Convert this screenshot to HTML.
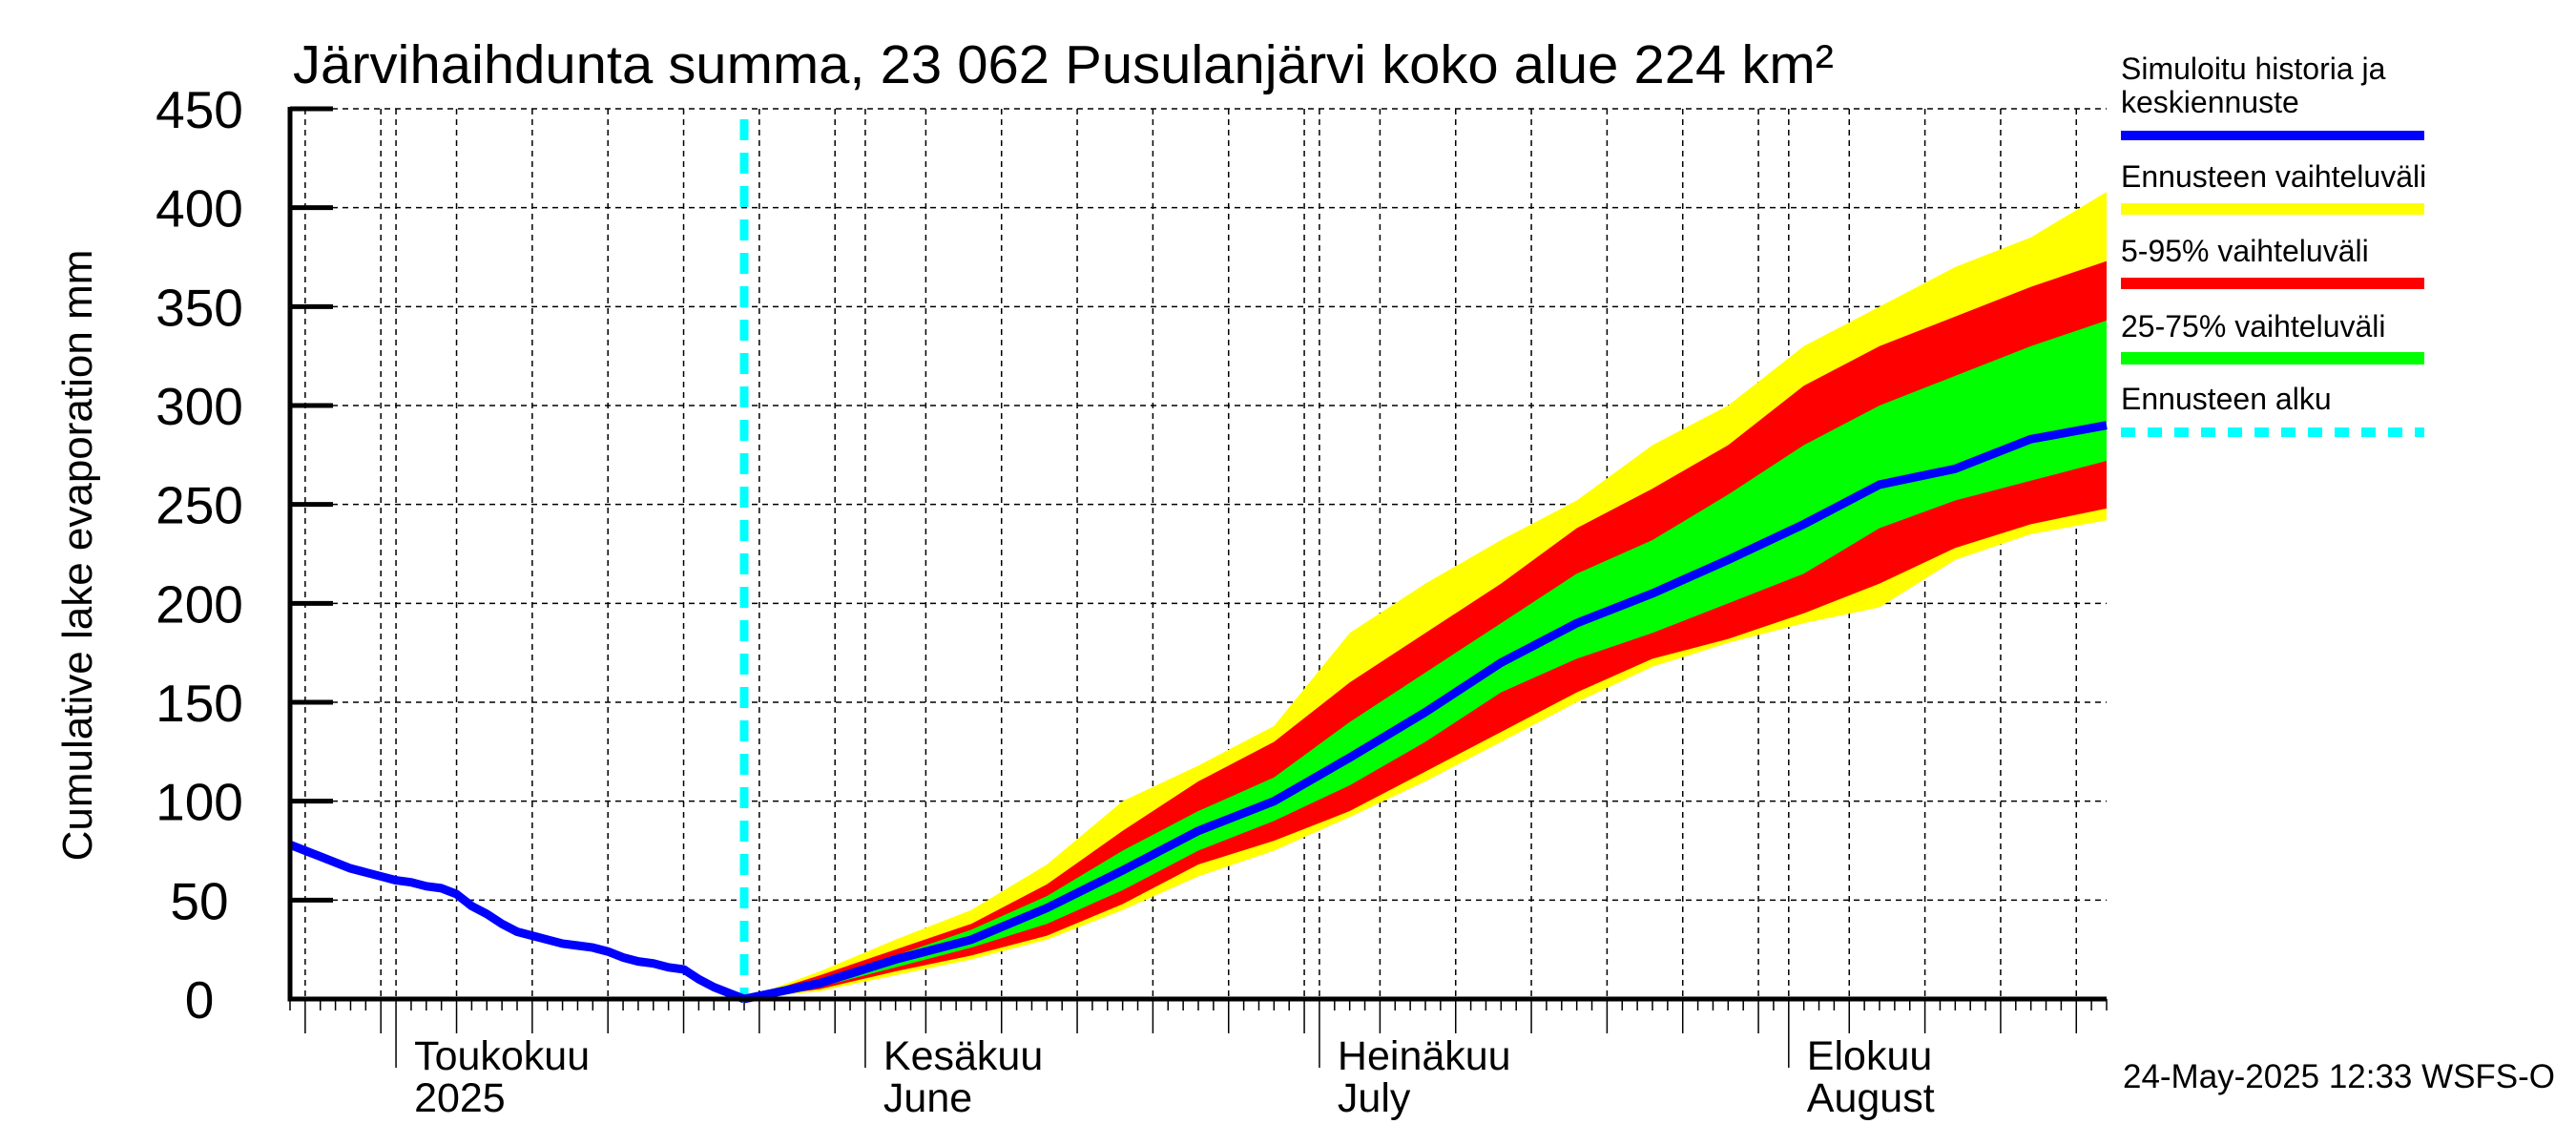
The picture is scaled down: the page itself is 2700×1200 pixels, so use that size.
<!DOCTYPE html>
<html><head><meta charset="utf-8"><style>
html,body{margin:0;padding:0;background:#fff;}
svg{display:block;font-family:"Liberation Sans",sans-serif;}
</style></head><body>
<svg id="chart" width="2700" height="1200" viewBox="0 0 2700 1200" xmlns="http://www.w3.org/2000/svg">
<g id="grid"></g>
<g id="bands"></g>
<g id="lines"></g>
<g id="axes"></g>
<text x="307" y="87" font-size="57" textLength="1615" lengthAdjust="spacingAndGlyphs">Järvihaihdunta summa, 23 062 Pusulanjärvi koko alue 224 km²</text>
<text transform="translate(96,582) rotate(-90)" text-anchor="middle" font-size="44">Cumulative lake evaporation   mm</text>
<g font-size="32">
<text x="2223" y="83">Simuloitu historia ja</text>
<text x="2223" y="118">keskiennuste</text>
<rect x="2223" y="137" width="318" height="10" fill="#0000ff"/>
<text x="2223" y="196">Ennusteen vaihteluväli</text>
<rect x="2223" y="213" width="318" height="12" fill="#ffff00"/>
<text x="2223" y="274">5-95% vaihteluväli</text>
<rect x="2223" y="291" width="318" height="12" fill="#ff0000"/>
<text x="2223" y="353">25-75% vaihteluväli</text>
<rect x="2223" y="369" width="318" height="13" fill="#00ff00"/>
<text x="2223" y="429">Ennusteen alku</text>
<line x1="2223" y1="453" x2="2541" y2="453" stroke="#00ffff" stroke-width="10" stroke-dasharray="15,13"/>
</g>
<text x="2225" y="1140" font-size="35" textLength="453" lengthAdjust="spacingAndGlyphs">24-May-2025 12:33 WSFS-O</text>
</svg>
<script>
// day offsets from 2025-04-24
const histDays = [0,1,2,3,4,5,6,7,8,9,10,11,12,13,14,15,16,17,18,19,20,21,22,23,24,25,26,27,28,29,30];
const histVals = [78,75,72,69,66,64,62,60,59,57,56,53,47,43,38,34,32,30,28,27,26,24,21,19,18,16,15,10,6,3,0];
const fcDays = [30,35,40,45,50,55,60,65,70,75,80,85,90,95,100,105,110,115,120];
const yelHi = [0,14,30,45,68,100,118,138,185,210,232,252,280,300,330,350,370,385,408];
const redHi = [0,12,25,38,58,85,110,130,160,185,210,238,258,280,310,330,345,360,373];
const grnHi = [0,10,22,35,52,75,95,112,140,165,190,215,232,255,280,300,315,330,343];
const median = [0,8,20,30,46,65,85,100,122,145,170,190,205,222,240,260,268,283,290];
const grnLo = [0,6,16,26,38,55,75,90,108,130,155,172,185,200,215,238,252,262,272];
const redLo = [0,5,14,22,32,48,68,80,95,115,135,155,172,182,195,210,228,240,248];
const yelLo = [0,4,12,20,30,45,62,75,92,110,130,150,168,180,190,198,222,235,242];
const yTicks = [0,50,100,150,200,250,300,350,400,450];
const monthStarts = [7,38,68,99];
const monthFi = ["Toukokuu","Kesäkuu","Heinäkuu","Elokuu"];
const monthSub = ["2025","June","July","August"];
const forecastStart = 30;
const totalDays = 120;

const X0=304,X1=2208,Y0=1047,Y1=114;
const x = d => X0 + d*(X1-X0)/totalDays;
const y = v => Y0 - v*(Y0-Y1)/450;
const NS="http://www.w3.org/2000/svg";
function mk(parent,tag,attrs){const e=document.createElementNS(NS,tag);for(const k in attrs)e.setAttribute(k,attrs[k]);parent.appendChild(e);return e;}
const grid=document.getElementById('grid'),bands=document.getElementById('bands'),lines=document.getElementById('lines'),axes=document.getElementById('axes');

// day-of-month for each day offset (Apr 24 start)
const mLen=[[24,30],[1,31],[1,30],[1,31],[1,31]];
let dom=[];{let d=24,mi=0;for(let i=0;i<=totalDays;i++){dom.push(d);d++;const lim=[30,31,30,31,31][mi];if(d>lim){d=1;mi++;}}}
for(let i=0;i<=totalDays;i++){
  const dm=dom[i];
  const isMonth=dm===1, is5=dm%5===0;
  if(isMonth||is5){
    const g=mk(grid,'line',{x1:x(i),y1:Y1,x2:x(i),y2:Y0,stroke:'#000','stroke-width':1.5,'stroke-dasharray':'6,5'});
    
    
  }
  const len=isMonth?72:(is5?36:12);
  const t=mk(axes,'line',{x1:x(i),y1:Y0,x2:x(i),y2:Y0+len,stroke:'#000','stroke-width':1.5});
  
  
}
yTicks.forEach(v=>{
  if(v>0){const g=mk(grid,'line',{x1:X0,y1:y(v),x2:X1,y2:y(v),stroke:'#000','stroke-width':1.5,'stroke-dasharray':'6,5'});
  
  }
  const t=mk(axes,'line',{x1:X0,y1:y(v),x2:X0+45,y2:y(v),stroke:'#000','stroke-width':5});
  
  
  const l=mk(axes,'text',{x:209,y:y(v)+20,'text-anchor':'middle','font-size':55});
  
  
  l.textContent=v;
});
monthStarts.forEach((d,i)=>{
  const a=mk(axes,'text',{x:x(d)+19,y:1121,'font-size':43});
  
  
  a.textContent=monthFi[i];
  const b=mk(axes,'text',{x:x(d)+19,y:1165,'font-size':43});
  
  
  b.textContent=monthSub[i];
});
function band(hi,lo,color,name){
  let p=fcDays.map((d,i)=>x(d)+','+y(hi[i])).join(' ');
  p+=' '+fcDays.slice().reverse().map((d,j)=>{const i=fcDays.length-1-j;return x(d)+','+y(lo[i]);}).join(' ');
  const e=mk(bands,'polygon',{points:p,fill:color});
  
  
}
band(yelHi,yelLo,'#ffff00','band-full-range');
band(redHi,redLo,'#ff0000','band-5-95');
band(grnHi,grnLo,'#00ff00','band-25-75');
const cy=mk(lines,'line',{x1:x(forecastStart),y1:125,x2:x(forecastStart),y2:Y0,stroke:'#00ffff','stroke-width':9,'stroke-dasharray':'22,13'});


const hp=histDays.map((d,i)=>x(d)+','+y(histVals[i])).join(' ');
const h=mk(lines,'polyline',{points:hp,fill:'none',stroke:'#0000ff','stroke-width':9,'stroke-linejoin':'round'});


const mp=fcDays.map((d,i)=>x(d)+','+y(median[i])).join(' ');
const m=mk(lines,'polyline',{points:mp,fill:'none',stroke:'#0000ff','stroke-width':9,'stroke-linejoin':'round'});


const ax=mk(axes,'path',{d:`M${X0},${Y1-2} L${X0},${Y0} L${X1},${Y0}`,fill:'none',stroke:'#000','stroke-width':5});


</script>
</body></html>
